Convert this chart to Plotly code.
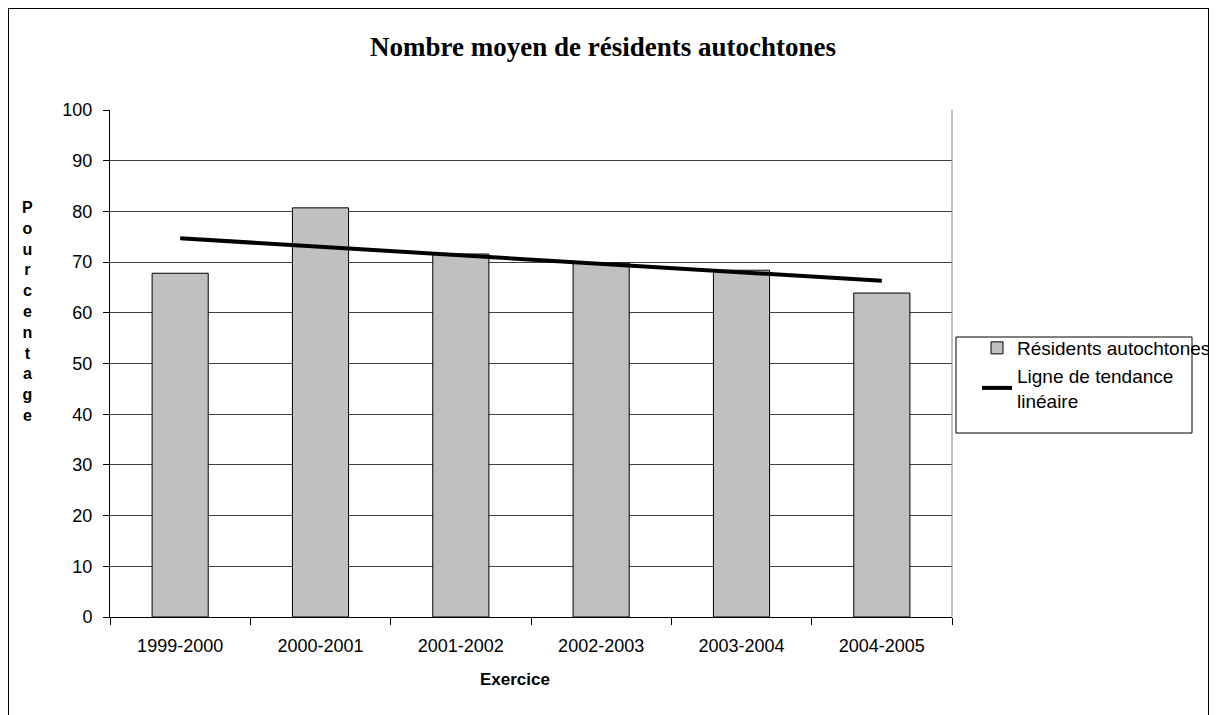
import plotly.graph_objects as go

categories = ["1999-2000", "2000-2001", "2001-2002", "2002-2003", "2003-2004", "2004-2005"]
residents = [67.8, 80.7, 71.6, 69.8, 68.4, 63.9]
trend_x = ["1999-2000", "2004-2005"]
trend_y = [74.7, 66.3]

OFF = 8  # page body margin
W, H = 1217 - OFF, 715 - OFF
# plot area in page coordinates: x 110..952, y 110..617
L, T = 110 - OFF, 110 - OFF
R, B = W - (952 - OFF), H - (617 - OFF)
pw, ph = W - L - R, H - T - B

def px(x):  # page pixel -> paper
    return (x - OFF - L) / pw

def py(y):
    return (H - B - (y - OFF)) / ph

fig = go.Figure()
fig.add_trace(go.Bar(
    x=categories, y=residents, name="Résidents autochtones",
    width=0.4, marker=dict(color="#c0c0c0", line=dict(color="black", width=1)),
))
fig.add_trace(go.Scatter(
    x=trend_x, y=trend_y, mode="lines", name="Ligne de tendance<br>linéaire",
    line=dict(color="black", width=4),
))

fig.update_layout(
    width=W, height=H,
    margin=dict(l=L, r=R, t=T, b=B, autoexpand=False),
    paper_bgcolor="white", plot_bgcolor="white",
    font=dict(family="Liberation Sans, Arial", size=18, color="black"),
    title=dict(text="<b>Nombre moyen de résidents autochtones</b>",
               font=dict(family="Liberation Serif, Times New Roman", size=27, color="black"),
               x=(603 - OFF) / W, xanchor="center", y=1 - (47 - OFF) / H, yanchor="middle"),
    showlegend=True,
    legend=dict(x=px(977), y=py(329), xanchor="left", yanchor="top",
                borderwidth=0, bgcolor="rgba(0,0,0,0)",
                font=dict(size=19), tracegroupgap=0, itemwidth=30),
    bargap=0.6,
)
fig.update_xaxes(
    type="category", showgrid=False, showline=True, linecolor="black", linewidth=1,
    ticks="outside", tickson="boundaries", ticklen=7, tickcolor="black",
    tickfont=dict(size=18), mirror=False, ticklabelstandoff=12,
)
fig.update_yaxes(
    range=[0, 100], dtick=10, showgrid=True, gridcolor="#404040", gridwidth=1,
    showline=True, linecolor="black", linewidth=1, ticks="outside", ticklen=6,
    tickcolor="black", tickfont=dict(size=18), zeroline=False, ticklabelstandoff=7,
)

# right border of plot area
fig.add_shape(type="line", xref="paper", yref="paper", x0=1, x1=1, y0=0, y1=1,
              line=dict(color="#888888", width=1))
# outer frame
fig.add_shape(type="rect", xref="paper", yref="paper",
              x0=px(8), x1=px(1209), y0=py(740), y1=py(8),
              line=dict(color="black", width=2), fillcolor="rgba(0,0,0,0)", layer="below")
# legend box
fig.add_shape(type="rect", xref="paper", yref="paper",
              x0=px(956), x1=px(1192), y0=py(433), y1=py(337),
              line=dict(color="black", width=1), fillcolor="white", layer="below")

# axis titles
fig.add_annotation(text="<b>Exercice</b>", xref="paper", yref="paper",
                   x=px(515), y=py(679), showarrow=False, font=dict(size=17),
                   xanchor="center", yanchor="middle")
ytitle = "<br>".join("Pourcentage")
fig.add_annotation(text="<b>" + ytitle + "</b>", xref="paper", yref="paper",
                   x=px(27), y=py(311), showarrow=False, font=dict(size=16),
                   xanchor="center", yanchor="middle")

fig.write_html("out.html")
